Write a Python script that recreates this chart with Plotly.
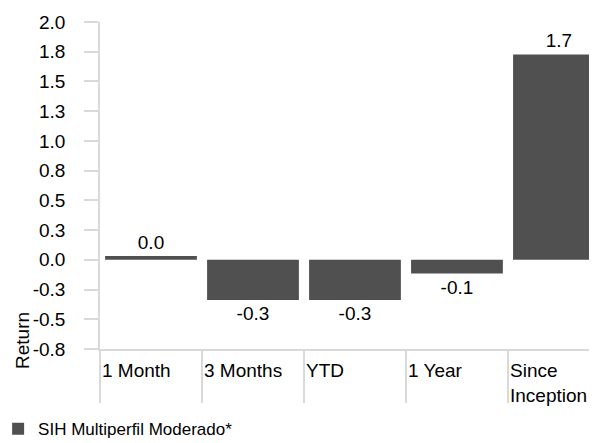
import plotly.graph_objects as go

categories = ["1 Month", "3 Months", "YTD", "1 Year", "Since Inception"]
category_labels = ["1 Month", "3 Months", "YTD", "1 Year", "Since<br>Inception"]
returns = [0.032, -0.338, -0.338, -0.116, 1.727]
value_labels = ["0.0", "-0.3", "-0.3", "-0.1", "1.7"]
series_name = "SIH Multiperfil Moderado*"
y_tickvals = [2.0, 1.75, 1.5, 1.25, 1.0, 0.75, 0.5, 0.25, 0.0, -0.25, -0.5, -0.75]
y_ticktext = ["2.0", "1.8", "1.5", "1.3", "1.0", "0.8", "0.5", "0.3", "0.0", "-0.3", "-0.5", "-0.8"]

FONT = "Liberation Sans, Arial, sans-serif"
AX = "#d9d9d9"
BAR = "#505050"
FS = 19

fig = go.Figure()
fig.add_trace(go.Bar(
    x=categories, y=returns, name=series_name,
    marker=dict(color=BAR, line=dict(width=0)),
    text=value_labels, textposition="outside", cliponaxis=False,
    textfont=dict(family=FONT, size=FS, color="#000000"),
    showlegend=True,
))

annotations = []
for cat, lab in zip(categories, category_labels):
    annotations.append(dict(
        x=cat, xref="x", y=0, yref="paper", text=lab, showarrow=False,
        xanchor="left", yanchor="top", align="left", xshift=-51, yshift=-9,
        font=dict(family=FONT, size=FS, color="#000000"),
    ))
annotations.append(dict(
    x=-0.157, xref="paper", y=0.0275, yref="paper", text="Return", showarrow=False,
    textangle=-90, xanchor="center", yanchor="middle",
    font=dict(family=FONT, size=FS, color="#000000"),
))

fig.update_layout(
    width=589, height=435,
    margin=dict(l=92, r=0, t=14, b=94, pad=0, autoexpand=False),
    paper_bgcolor="white", plot_bgcolor="white",
    bargap=0.1,
    font=dict(family=FONT, size=FS, color="#000000"),
    xaxis=dict(
        type="category", range=[-0.5, 4.373], showticklabels=False, automargin=False,
        tickson="boundaries", ticks="outside", ticklen=52, tickwidth=1.5, tickcolor=AX,
        showline=True, linecolor=AX, linewidth=1.5, showgrid=False, zeroline=False,
    ),
    yaxis=dict(
        range=[-0.75, 2.0], tickvals=y_tickvals, ticktext=y_ticktext, automargin=False,
        ticks="outside", ticklen=14, tickwidth=1.5, tickcolor=AX,
        ticklabelstandoff=15,
        showline=True, linecolor=AX, linewidth=1.5, showgrid=False, zeroline=False,
        tickfont=dict(family=FONT, size=FS, color="#000000"),
    ),
    legend=dict(
        orientation="h", xref="paper", yref="paper",
        x=-0.205, xanchor="left", y=-0.19, yanchor="top",
        font=dict(family=FONT, size=17, color="#000000"),
        itemwidth=30, bgcolor="rgba(0,0,0,0)",
    ),
    annotations=annotations,
)

fig.write_html("out.html")
